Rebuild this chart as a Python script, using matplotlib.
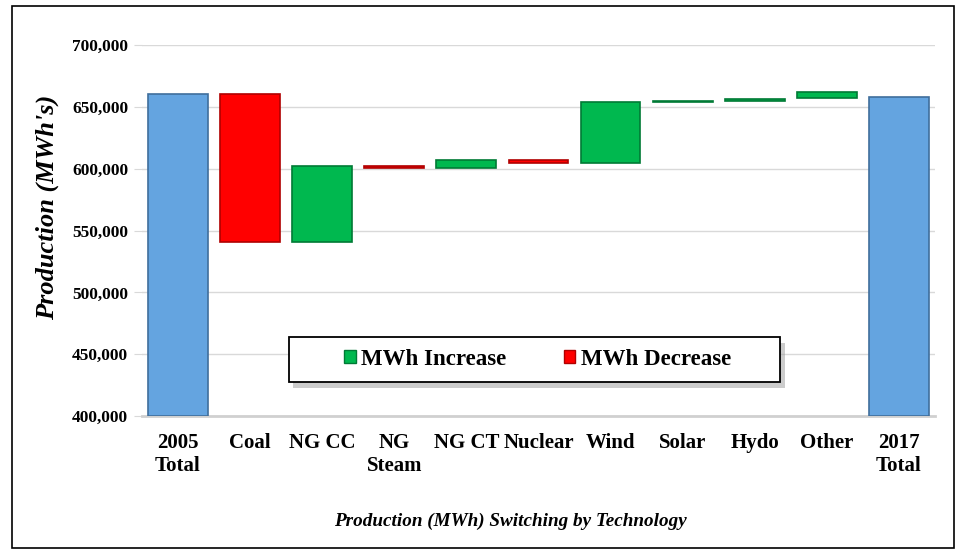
import numpy as np
import matplotlib.pyplot as plt
from matplotlib.patches import Rectangle
from matplotlib.ticker import FuncFormatter

plt.rcParams['font.family'] = ['Liberation Serif', 'DejaVu Serif']

# Waterfall data (MWh)
categories = ['2005\nTotal', 'Coal', 'NG CC', 'NG\nSteam', 'NG CT', 'Nuclear',
              'Wind', 'Solar', 'Hydo', 'Other', '2017\nTotal']
bar_start = [400000, 660500, 541000, 602000, 601000, 607000, 605000, 654200, 655200, 657600, 400000]
bar_end = [660500, 541000, 602000, 601000, 607000, 605000, 654000, 654800, 656800, 662400, 658200]
is_total = [True, False, False, False, False, False, False, False, False, False, True]

blue, blue_edge = '#64A4E0', '#3F6E9C'
green, green_edge = '#00B84F', '#007A35'
red, red_edge = '#FF0000', '#B00000'

fig = plt.figure(figsize=(9.59, 5.51), dpi=100)
ax = fig.add_axes([0.148, 0.245, 0.827, 0.673])

x = np.arange(len(categories))
for i, (s, e, tot) in enumerate(zip(bar_start, bar_end, is_total)):
    lo, hi = min(s, e), max(s, e)
    if tot:
        fc, ec = blue, blue_edge
    elif e > s:
        fc, ec = green, green_edge
    else:
        fc, ec = red, red_edge
    ax.bar(x[i], hi - lo, bottom=lo, width=0.83, color=fc, edgecolor=ec, linewidth=1.2, zorder=3)

ax.set_ylim(400000, 700000)
ax.set_xlim(-0.5, len(categories) - 0.5)
ax.set_yticks(np.arange(400000, 700001, 50000))
ax.yaxis.set_major_formatter(FuncFormatter(lambda v, p: f'{int(v):,}'))
ax.grid(axis='y', color='#D9D9D9', linewidth=1.0, zorder=0)
ax.set_axisbelow(True)
for side in ['top', 'right', 'left']:
    ax.spines[side].set_visible(False)
ax.spines['bottom'].set_color('#D0D0D0')
ax.spines['bottom'].set_linewidth(2)
ax.tick_params(axis='y', length=6, color='#D9D9D9', labelsize=12.5, pad=4)
ax.tick_params(axis='x', length=0, labelsize=15, pad=12)
ax.set_xticks(x)
ax.set_xticklabels(categories, fontweight='bold', linespacing=1.2)
for lab in ax.get_yticklabels():
    lab.set_fontweight('bold')

ax.set_ylabel("Production (MWh's)", fontsize=19, fontweight='bold', fontstyle='italic')
ax.yaxis.set_label_coords(-0.105, 0.563)
fig.text(0.532, 0.054, 'Production (MWh) Switching by Technology', ha='center', va='center',
         fontsize=13.8, fontweight='bold', fontstyle='italic')

# legend box with shadow, drawn separately so its size matches the original
bx0, by0, bw, bh = 0.185, 0.092, 0.62, 0.121
ax.add_patch(Rectangle((bx0 + 0.006, by0 - 0.016), bw, bh, transform=ax.transAxes,
                       facecolor='#9A9A9A', edgecolor='none', alpha=0.5, zorder=5))
ax.add_patch(Rectangle((bx0, by0), bw, bh, transform=ax.transAxes,
                       facecolor='white', edgecolor='black', linewidth=1.3, zorder=6))
handles = [Rectangle((0, 0), 1, 1, facecolor=green, edgecolor=green_edge),
           Rectangle((0, 0), 1, 1, facecolor=red, edgecolor=red_edge)]
leg = ax.legend(handles, ['MWh Increase', 'MWh Decrease'], loc='center',
                bbox_to_anchor=(bx0 + bw / 2 + 0.004, by0 + bh / 2), ncol=2,
                prop={'weight': 'bold', 'size': 16.5}, frameon=False,
                handlelength=0.5, handleheight=0.5, handletextpad=0.25,
                columnspacing=2.5, borderaxespad=0)
leg.set_zorder(7)

# figure border
fig.patches.append(Rectangle((0.013, 0.005), 0.982, 0.985, transform=fig.transFigure,
                             fill=False, edgecolor='black', linewidth=1.2))

fig.savefig('out.png', dpi=100)
